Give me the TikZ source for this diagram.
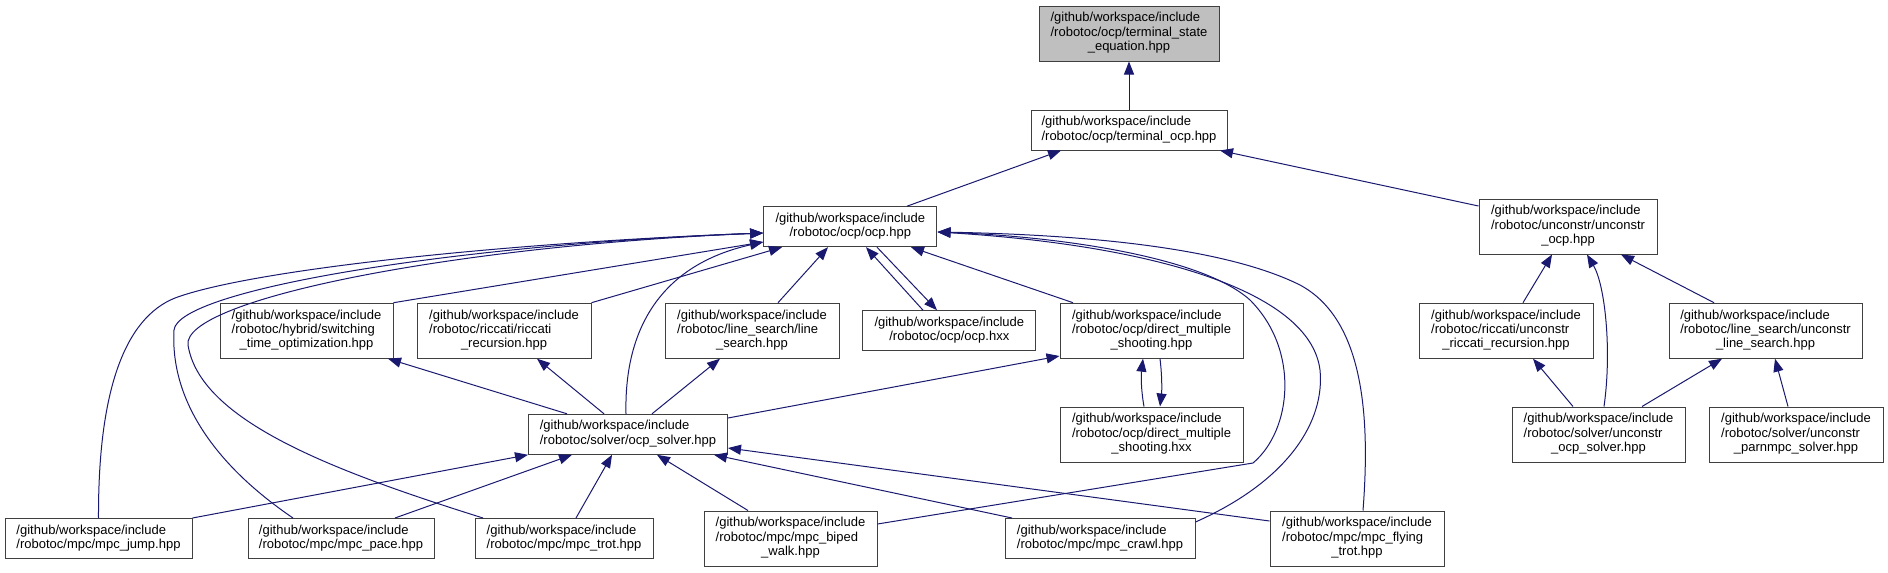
\documentclass[tikz,border=0pt]{standalone}
\usepackage{fontspec}
\setmainfont{Liberation Sans}
\usetikzlibrary{arrows.meta}

\definecolor{edgeblue}{HTML}{191970}
\definecolor{boxline}{HTML}{404040}
\definecolor{hlgray}{HTML}{BFBFBF}

% file labels: first line fixed, last line centred
\newcommand{\ptwo}[1]{\begin{tabular}{@{}l@{}}/github/workspace/include\\\multicolumn{1}{@{}c@{}}{#1}\end{tabular}}
\newcommand{\pthree}[2]{\begin{tabular}{@{}l@{}}/github/workspace/include\\#1\\\multicolumn{1}{@{}c@{}}{#2}\end{tabular}}

\tikzset{every picture/.style={line width=0.75pt}}
\tikzset{
  file/.style={draw=boxline, fill=white, inner sep=0pt, minimum height=30pt,
    font=\fontsize{9.75}{10.8}\selectfont},
  file3/.style={file, minimum height=41.25pt},
  dep/.style={draw=edgeblue, -{Triangle[length=9.75pt,width=7.5pt]}},
}

\begin{document}
\begin{tikzpicture}[x=0.75pt,y=0.75pt,yscale=-1,xscale=1]
\useasboundingbox (0,0) rectangle (1888,572);

% Files
\node[file3, fill=hlgray, minimum width=135pt] (tse) at (1129,33.5) {\pthree{/robotoc/ocp/terminal\_state}{\_equation.hpp}};
\node[file, minimum width=147pt] (tocp) at (1129,130) {\ptwo{/robotoc/ocp/terminal\_ocp.hpp}};
\node[file, minimum width=130pt] (ocp) at (850.3,226.7) {\ptwo{/robotoc/ocp/ocp.hpp}};
\node[file3, minimum width=133.5pt] (uocp) at (1568,226.5) {\pthree{/robotoc/unconstr/unconstr}{\_ocp.hpp}};
\node[file3, minimum width=129.75pt] (sto) at (306.5,330.7) {\pthree{/robotoc/hybrid/switching}{\_time\_optimization.hpp}};
\node[file3, minimum width=130.5pt] (rr) at (504,330.7) {\pthree{/robotoc/riccati/riccati}{\_recursion.hpp}};
\node[file3, minimum width=130.5pt] (ls) at (752,330.7) {\pthree{/robotoc/line\_search/line}{\_search.hpp}};
\node[file, minimum width=130pt] (hxx) at (949.3,330.7) {\ptwo{/robotoc/ocp/ocp.hxx}};
\node[file3, minimum width=137.25pt] (dmsp) at (1151.5,330.7) {\pthree{/robotoc/ocp/direct\_multiple}{\_shooting.hpp}};
\node[file3, minimum width=130.5pt] (urr) at (1506,330.7) {\pthree{/robotoc/riccati/unconstr}{\_riccati\_recursion.hpp}};
\node[file3, minimum width=144.75pt] (uls) at (1765.5,330.7) {\pthree{/robotoc/line\_search/unconstr}{\_line\_search.hpp}};
\node[file, minimum width=149.25pt] (solver) at (628,434.3) {\ptwo{/robotoc/solver/ocp\_solver.hpp}};
\node[file3, minimum width=137.25pt] (dmsx) at (1151.5,434.5) {\pthree{/robotoc/ocp/direct\_multiple}{\_shooting.hxx}};
\node[file3, minimum width=129.75pt] (uos) at (1598.5,434.5) {\pthree{/robotoc/solver/unconstr}{\_ocp\_solver.hpp}};
\node[file3, minimum width=130.5pt] (ups) at (1796,434.5) {\pthree{/robotoc/solver/unconstr}{\_parnmpc\_solver.hpp}};
\node[file, minimum width=140.25pt] (jump) at (98.5,538.5) {\ptwo{/robotoc/mpc/mpc\_jump.hpp}};
\node[file, minimum width=139.5pt] (pace) at (341,538.5) {\ptwo{/robotoc/mpc/mpc\_pace.hpp}};
\node[file, minimum width=133.5pt] (trot) at (564,538.5) {\ptwo{/robotoc/mpc/mpc\_trot.hpp}};
\node[file3, minimum width=129.75pt] (biped) at (790.5,538.5) {\pthree{/robotoc/mpc/mpc\_biped}{\_walk.hpp}};
\node[file, minimum width=142.5pt] (crawl) at (1100,538.5) {\ptwo{/robotoc/mpc/mpc\_crawl.hpp}};
\node[file3, minimum width=130.5pt] (flying) at (1357,538.5) {\pthree{/robotoc/mpc/mpc\_flying}{\_trot.hpp}};

% top
\draw[dep] (tocp.north) -- (tse.south);
\draw[dep] (ocp.north -| 907,0) -- (tocp.south -| 1061,0);
\draw[dep] (uocp.west |- 0,206) -- (tocp.south -| 1220,0);

% into ocp, left side
\draw[dep] (jump.north) .. controls (98,390) and (125,318) .. (175,298) .. controls (250,270) and (500,243) .. (ocp.west |- 0,233);
\draw[dep] (pace.north -| 293,0) .. controls (215,465) and (170,400) .. (174,330) .. controls (178,290) and (450,245) .. (ocp.west |- 0,233);
\draw[dep] (trot.north -| 483,0) .. controls (330,470) and (200,420) .. (188,345) .. controls (182,300) and (450,246) .. (ocp.west |- 0,233);
\draw[dep] (sto.north east) -- (ocp.west |- 0,242);
\draw[dep] (solver.north -| 626,0) .. controls (624,330) and (660,265) .. (ocp.west |- 0,242);
\draw[dep] (rr.north east) -- (ocp.south -| 782,0);
\draw[dep] (ls.north -| 778,0) -- (ocp.south -| 828,0);
\draw[dep] (hxx.north -| 923,0) -- (ocp.south -| 866,0);
\draw[dep] (ocp.south -| 877,0) -- (hxx.north -| 937,0);
\draw[dep] (dmsp.north -| 1073,0) -- (ocp.south -| 911,0);

% into ocp, right side
\draw[dep] (biped.east |- 0,524) -- (1253,463) .. controls (1292,430) and (1300,350) .. (1250,300) .. controls (1200,255) and (1050,236) .. (ocp.east |- 0,232);
\draw[dep] (crawl.east |- 0,522) .. controls (1290,480) and (1325,420) .. (1320,370) .. controls (1310,290) and (1150,245) .. (ocp.east |- 0,232);
\draw[dep] (flying.north -| 1363,0) .. controls (1370,420) and (1365,320) .. (1300,285) .. controls (1230,250) and (1100,235) .. (ocp.east |- 0,232);

% ocp_solver
\draw[dep] (solver.north -| 567,0) -- (sto.south -| 388,0);
\draw[dep] (solver.north -| 604,0) -- (rr.south -| 537,0);
\draw[dep] (solver.north -| 652,0) -- (ls.south -| 720,0);
\draw[dep] (solver.east |- 0,418) -- (dmsp.west |- 0,356);
\draw[dep] (dmsx.north -| 1144,0) .. controls (1141,390) and (1141,375) .. (dmsp.south -| 1143,0);
\draw[dep] (dmsp.south -| 1160,0) .. controls (1162,375) and (1162,390) .. (dmsx.north -| 1160,0);
\draw[dep] (jump.north east) -- (solver.south west);
\draw[dep] (pace.north -| 395,0) -- (solver.south -| 572,0);
\draw[dep] (trot.north -| 576,0) -- (solver.south -| 612,0);
\draw[dep] (biped.north -| 748,0) -- (solver.south -| 657,0);
\draw[dep] (crawl.north -| 1012,0) -- (solver.south -| 714,0);
\draw[dep] (flying.west |- 0,521) -- (solver.east |- 0,448);

% unconstr
\draw[dep] (urr.north -| 1523,0) -- (uocp.south -| 1552,0);
\draw[dep] (uos.north -| 1604,0) .. controls (1612,350) and (1605,285) .. (uocp.south -| 1587,0);
\draw[dep] (uls.north -| 1714,0) -- (uocp.south -| 1621,0);
\draw[dep] (uos.north -| 1573,0) -- (urr.south -| 1533,0);
\draw[dep] (uos.north -| 1642,0) -- (uls.south -| 1722,0);
\draw[dep] (ups.north -| 1788,0) -- (uls.south -| 1775,0);
\end{tikzpicture}
\end{document}
